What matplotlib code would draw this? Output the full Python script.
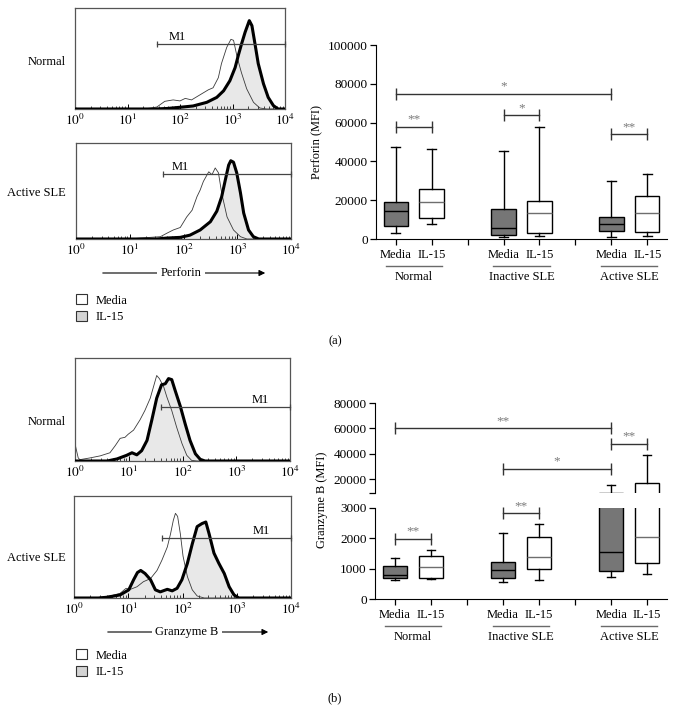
import numpy as np
import matplotlib
matplotlib.use("Agg")
import matplotlib.pyplot as plt
from matplotlib.patches import Patch, FancyArrowPatch
from matplotlib.ticker import LogLocator, NullFormatter

plt.rcParams['font.family'] = ['Liberation Serif', 'DejaVu Serif']
plt.rcParams['font.size'] = 8.5
plt.rcParams['mathtext.fontset'] = 'stix'

W, H = 676, 724
fig = plt.figure(figsize=(W / 100, H / 100), dpi=100)


def px_axes(x0, y0, x1, y1):
    return fig.add_axes([x0 / W, 1 - y1 / H, (x1 - x0) / W, (y1 - y0) / H])


# ---- histogram data (log10 of fluorescence, height as fraction of panel) ----
perf_norm_media_lx = [0.0, 0.02, 0.05, 1.3, 1.45, 1.56, 1.71, 1.87, 2.0, 2.10, 2.22, 2.38, 2.54, 2.63,
                      2.73, 2.79, 2.89, 2.97, 3.02, 3.09, 3.17, 3.27, 3.40, 3.52, 3.65, 4.0]
perf_norm_media_y = [0.02, 0.01, 0.0, 0.0, 0.01, 0.02, 0.076, 0.09, 0.08, 0.105, 0.09, 0.14, 0.19, 0.21,
                     0.31, 0.45, 0.61, 0.69, 0.68, 0.51, 0.36, 0.2, 0.066, 0.01, 0.0, 0.0]
perf_norm_il15_lx = [0.0, 1.5, 1.75, 2.0, 2.25, 2.51, 2.70, 2.83, 2.95, 3.05, 3.11, 3.17, 3.24, 3.32,
                     3.37, 3.43, 3.49, 3.59, 3.68, 3.78, 3.87, 4.0]
perf_norm_il15_y = [0.0, 0.0, 0.005, 0.017, 0.03, 0.066, 0.115, 0.18, 0.28, 0.41, 0.53, 0.64, 0.76, 0.875,
                    0.825, 0.64, 0.45, 0.25, 0.115, 0.033, 0.0, 0.0]

perf_act_media_lx = [0.0, 1.0, 1.19, 1.57, 1.69, 1.81, 1.94, 2.06, 2.16, 2.25, 2.31, 2.37, 2.47, 2.53,
                     2.59, 2.65, 2.71, 2.81, 2.93, 3.06, 3.18, 4.0]
perf_act_media_y = [0.0, 0.0, 0.01, 0.024, 0.06, 0.094, 0.12, 0.23, 0.30, 0.44, 0.51, 0.6, 0.70, 0.67,
                    0.74, 0.69, 0.48, 0.23, 0.094, 0.024, 0.0, 0.0]
perf_act_il15_lx = [0.0, 1.5, 1.69, 1.94, 2.12, 2.31, 2.50, 2.62, 2.71, 2.78, 2.84, 2.88, 2.93, 2.99,
                    3.06, 3.12, 3.21, 3.30, 3.40, 4.0]
perf_act_il15_y = [0.0, 0.0, 0.01, 0.017, 0.04, 0.094, 0.18, 0.29, 0.44, 0.62, 0.77, 0.815, 0.80, 0.69,
                   0.48, 0.27, 0.094, 0.024, 0.0, 0.0]

gzb_norm_media_lx = [0.0, 0.02, 0.06, 0.09, 0.28, 0.47, 0.65, 0.75, 0.84, 0.93, 0.99, 1.09, 1.21, 1.30,
                     1.40, 1.46, 1.52, 1.57, 1.65, 1.71, 1.80, 1.89, 1.99, 2.08, 2.17, 2.27, 4.0]
gzb_norm_media_y = [0.17, 0.12, 0.03, 0.013, 0.03, 0.05, 0.08, 0.15, 0.22, 0.23, 0.26, 0.30, 0.40, 0.49,
                    0.61, 0.72, 0.83, 0.80, 0.72, 0.62, 0.49, 0.33, 0.17, 0.055, 0.006, 0.0, 0.0]
gzb_norm_il15_lx = [0.0, 0.6, 0.78, 0.96, 1.06, 1.15, 1.24, 1.34, 1.43, 1.52, 1.61, 1.68, 1.74, 1.80,
                    1.86, 1.96, 2.05, 2.14, 2.24, 2.33, 2.42, 4.0]
gzb_norm_il15_y = [0.0, 0.0, 0.02, 0.055, 0.08, 0.06, 0.10, 0.20, 0.40, 0.61, 0.74, 0.75, 0.80, 0.79,
                   0.69, 0.53, 0.36, 0.20, 0.07, 0.016, 0.0, 0.0]

gzb_act_media_lx = [0.0, 0.4, 0.48, 0.67, 0.85, 0.96, 1.04, 1.16, 1.28, 1.41, 1.53, 1.62, 1.72, 1.78,
                    1.83, 1.87, 1.91, 1.96, 2.01, 2.09, 2.18, 2.27, 2.40, 4.0]
gzb_act_media_y = [0.0, 0.0, 0.007, 0.02, 0.046, 0.095, 0.085, 0.11, 0.16, 0.19, 0.27, 0.37, 0.50, 0.63,
                   0.76, 0.83, 0.80, 0.63, 0.41, 0.21, 0.08, 0.02, 0.0, 0.0]
gzb_act_il15_lx = [0.0, 0.45, 0.60, 0.85, 1.01, 1.10, 1.17, 1.23, 1.31, 1.41, 1.50, 1.59, 1.72, 1.81,
                   1.90, 1.99, 2.09, 2.18, 2.27, 2.36, 2.43, 2.49, 2.58, 2.67, 2.77, 2.86, 2.95, 3.04, 4.0]
gzb_act_il15_y = [0.0, 0.0, 0.007, 0.03, 0.08, 0.18, 0.25, 0.27, 0.24, 0.18, 0.08, 0.06, 0.085, 0.07,
                  0.095, 0.18, 0.34, 0.53, 0.70, 0.73, 0.745, 0.63, 0.44, 0.34, 0.24, 0.11, 0.03, 0.0, 0.0]

hist_ticks = [1, 10, 100, 1000, 10000]
hist_tick_labels = ['$10^{0}$', '$10^{1}$', '$10^{2}$', '$10^{3}$', '$10^{4}$']

# ---- box plot data ----
box_labels = ['Media', 'IL-15', 'Media', 'IL-15', 'Media', 'IL-15']
groups = ['Normal', 'Inactive SLE', 'Active SLE']

perf_low = [3300, 7700, 1000, 1700, 1000, 1700]
perf_q1 = [6700, 10700, 2200, 3300, 4100, 3800]
perf_med = [14600, 19100, 5700, 13400, 7600, 13400]
perf_q3 = [19100, 26000, 15700, 19600, 11500, 22200]
perf_high = [47200, 46500, 45300, 57700, 29800, 33600]

gzb_low = [620, 654, 565, 620, 740, 840]
gzb_q1 = [687, 697, 677, 985, 930, 1200]
gzb_med = [787, 1042, 943, 1395, 1560, 2060]
gzb_q3 = [1085, 1407, 1208, 2060, 9200, 16800]
gzb_high = [1350, 1606, 2190, 2460, 15260, 39000]

# significance brackets: (first box, second box, height, label)
perf_sig = [(0, 4, 75000, '*'), (0, 1, 57700, '**'), (2, 3, 63700, '*'), (4, 5, 54000, '**')]
gzb_sig_upper = [(0, 4, 60000, '**'), (4, 5, 47700, '**'), (2, 4, 27900, '*')]
gzb_sig_lower = [(2, 3, 2820, '**'), (0, 1, 1990, '**')]

positions = [0, 1, 3, 4, 6, 7]
separators = [2, 5]
media_color = '#767676'
il15_fill = '#e8e8e8'


def draw_hist(ax, m_lx, m_y, i_lx, i_y, m1_from, m1_y, m1_text):
    ax.fill_between(10 ** np.array(i_lx), i_y, color=il15_fill, lw=0, zorder=1)
    ax.plot(10 ** np.array(m_lx), m_y, color='#3a3a3a', lw=0.6, zorder=2)
    ax.plot(10 ** np.array(i_lx), i_y, color='black', lw=2.2, zorder=3, solid_joinstyle='round')
    ax.set_xscale('log')
    ax.set_xlim(1, 1e4)
    ax.set_ylim(0, 1)
    ax.plot([10 ** m1_from, 1e4], [m1_y, m1_y], color='#444444', lw=0.9, marker='|', ms=4,
            mew=0.9, clip_on=False, zorder=4)
    ax.text(10 ** m1_text, m1_y + 0.01, 'M1', ha='center', va='bottom', fontsize=9)
    ax.set_xticks(hist_ticks, hist_tick_labels)
    ax.xaxis.set_minor_locator(LogLocator(base=10, subs=np.arange(2, 10)))
    ax.xaxis.set_minor_formatter(NullFormatter())
    ax.set_yticks([])
    ax.tick_params(axis='x', which='both', direction='in', pad=3, labelsize=9.5)
    ax.tick_params(axis='x', which='major', length=3.5, width=0.7)
    ax.tick_params(axis='x', which='minor', length=2, width=0.5)
    for s in ax.spines.values():
        s.set_color('#555555')
        s.set_linewidth(0.9)


def make_stats(low, q1, med, q3, high):
    return [dict(whislo=a, q1=b, med=c, q3=d, whishi=e, fliers=[])
            for a, b, c, d, e in zip(low, q1, med, q3, high)]


def draw_boxes(ax, stats):
    bp = ax.bxp(stats, positions=positions, widths=0.68, patch_artist=True, showfliers=False,
                capwidths=0.24, manage_ticks=False,
                boxprops=dict(edgecolor='black', linewidth=1.0),
                whiskerprops=dict(color='black', linewidth=1.0),
                capprops=dict(color='black', linewidth=1.0),
                medianprops=dict(color='black', linewidth=1.0))
    for k, box in enumerate(bp['boxes']):
        box.set_facecolor(media_color if k % 2 == 0 else 'white')
        if k % 2 == 1:
            bp['medians'][k].set_color('#6e6e6e')
    ax.set_xlim(-0.55, 7.55)
    ax.spines['top'].set_visible(False)
    ax.spines['right'].set_visible(False)
    ax.tick_params(axis='y', length=4, width=0.9, labelsize=9.5, pad=2)


def draw_sig(ax, sig):
    for a, b, yv, lab in sig:
        ax.plot([positions[a], positions[b]], [yv, yv], color='#333333', lw=1.0, marker='|',
                ms=8, mew=1.0, clip_on=False)
        ax.annotate(lab, ((positions[a] + positions[b]) / 2, yv), xytext=(0, 1), textcoords='offset points',
                    ha='center', va='bottom', color='#7a7a7a', fontsize=9.5)


def draw_xaxis(ax, ax_h_px):
    ticks = positions + separators
    labels = box_labels + ['', '']
    ax.set_xticks(ticks, labels)
    ax.tick_params(axis='x', length=4, width=0.9, labelsize=9, pad=3)
    trans = ax.get_xaxis_transform()
    for g, name in enumerate(groups):
        c = (positions[2 * g] + positions[2 * g + 1]) / 2
        ax.plot([c - 0.78, c + 0.78], [-27 / ax_h_px] * 2, transform=trans, color='#6a6a6a', lw=1.0,
                clip_on=False)
        ax.text(c, -38 / ax_h_px, name, transform=trans, ha='center', va='center', fontsize=9)


# ---------------- (a) perforin ----------------
h1 = px_axes(75, 8, 285, 109)
draw_hist(h1, perf_norm_media_lx, perf_norm_media_y, perf_norm_il15_lx, perf_norm_il15_y, 1.57, 0.64, 1.94)
h2 = px_axes(76, 143, 291, 239)
draw_hist(h2, perf_act_media_lx, perf_act_media_y, perf_act_il15_lx, perf_act_il15_y, 1.61, 0.68, 1.94)

ax_p = px_axes(376, 45, 667, 239)
draw_boxes(ax_p, make_stats(perf_low, perf_q1, perf_med, perf_q3, perf_high))
ax_p.set_ylim(0, 100000)
ax_p.set_yticks(range(0, 100001, 20000), [str(v) for v in range(0, 100001, 20000)])
ax_p.set_ylabel('Perforin (MFI)', fontsize=9)
ax_p.yaxis.set_label_coords(-0.182, 0.5)
draw_sig(ax_p, perf_sig)
draw_xaxis(ax_p, 194)

# ---------------- (b) granzyme B ----------------
h3 = px_axes(75, 358, 290, 461)
draw_hist(h3, gzb_norm_media_lx, gzb_norm_media_y, gzb_norm_il15_lx, gzb_norm_il15_y, 1.60, 0.52, 3.45)
h4 = px_axes(74, 496, 291, 598)
draw_hist(h4, gzb_act_media_lx, gzb_act_media_y, gzb_act_il15_lx, gzb_act_il15_y, 1.62, 0.59, 3.45)

gzb_stats = make_stats(gzb_low, gzb_q1, gzb_med, gzb_q3, gzb_high)
ax_gu = px_axes(375, 403, 667, 493)
draw_boxes(ax_gu, gzb_stats)
ax_gu.set_ylim(9000, 80000)
ax_gu.set_yticks([20000, 40000, 60000, 80000], ['20000', '40000', '60000', '80000'])
ax_gu.set_yticks([9000], minor=True)
ax_gu.tick_params(axis='y', which='minor', length=4, width=0.9)
ax_gu.spines['bottom'].set_visible(False)
ax_gu.set_xticks([])
draw_sig(ax_gu, gzb_sig_upper)

ax_gl = px_axes(375, 508, 667, 599)
draw_boxes(ax_gl, gzb_stats)
ax_gl.set_ylim(0, 3000)
ax_gl.set_yticks([0, 1000, 2000, 3000], ['0', '1000', '2000', '3000'])
draw_sig(ax_gl, gzb_sig_lower)
draw_xaxis(ax_gl, 91)
fig.text(322 / W, 1 - 500 / H, 'Granzyme B (MFI)', rotation=90, ha='center', va='center', fontsize=9)

# ---------------- labels, arrows, legends ----------------
row_labels = [('Normal', 62), ('Active SLE', 193), ('Normal', 422), ('Active SLE', 558)]
for txt, yp in row_labels:
    fig.text(66 / W, 1 - yp / H, txt, ha='right', va='center', fontsize=9)

for name, y_px, x0, x1, xc in [('Perforin', 273, 100, 268, 181), ('Granzyme B', 632, 105, 271, 187)]:
    arr = FancyArrowPatch((x0 / W, 1 - y_px / H), (x1 / W, 1 - y_px / H), transform=fig.transFigure,
                          arrowstyle='-|>', mutation_scale=9, lw=0.8, color='black')
    fig.add_artist(arr)
    fig.text(xc / W, 1 - y_px / H, name, ha='center', va='center', fontsize=9,
             bbox=dict(fc='white', ec='none', pad=2.5), zorder=5)

for y_px in [288, 643]:
    fig.legend(handles=[Patch(fc='white', ec='#333333', lw=0.8, label='Media'),
                        Patch(fc='#d4d4d4', ec='#333333', lw=0.8, label='IL-15')],
               loc='upper left', bbox_to_anchor=(70 / W, 1 - y_px / H), frameon=False,
               handlelength=0.85, handleheight=0.85, handletextpad=0.7, labelspacing=0.35,
               borderpad=0, fontsize=9)

fig.text(335 / W, 1 - 341 / H, '(a)', ha='center', va='center', fontsize=9)
fig.text(335 / W, 1 - 698 / H, '(b)', ha='center', va='center', fontsize=9)

fig.savefig('out.png', dpi=100)
